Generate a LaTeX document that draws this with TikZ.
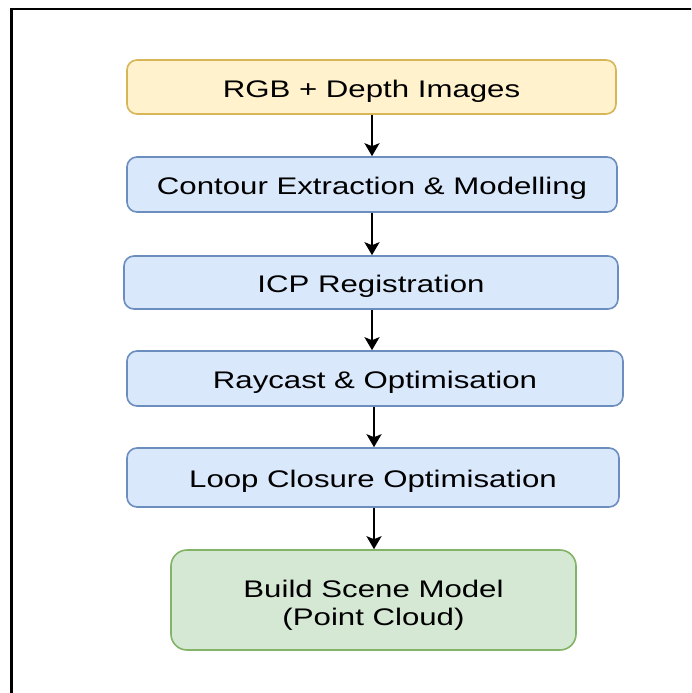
\documentclass[tikz,border=0pt]{standalone}
\usepackage{fontspec}
\setmainfont{Liberation Sans}
\newfontfamily\labfont[FakeStretch=1.3]{Liberation Sans}
\usetikzlibrary{arrows.meta}
\definecolor{bluefill}{HTML}{DAE8FC}
\definecolor{bluestroke}{HTML}{6C8EBF}
\definecolor{yelfill}{HTML}{FFF2CC}
\definecolor{yelstroke}{HTML}{D6B656}
\definecolor{grnfill}{HTML}{D5E8D4}
\definecolor{grnstroke}{HTML}{82B366}
\tikzset{
  labtext/.style={font=\labfont\fontsize{24pt}{28pt}\selectfont, text=black, align=center, inner sep=0pt},
  box/.style={draw, line width=1.6pt, rounded corners=10pt, inner sep=0pt, align=center,
    font=\labfont\fontsize{24pt}{28pt}\selectfont, text=black, text height=20pt, text depth=0pt},
  bluebox/.style={box, fill=bluefill, draw=bluestroke},
  yelbox/.style={box, fill=yelfill, draw=yelstroke},
  grnbox/.style={draw=grnstroke, fill=grnfill, line width=1.6pt, rounded corners=16pt, inner sep=0pt},
  arr/.style={draw=black, line width=2pt, -{Stealth[length=13pt, width=15pt, inset=3pt]}}
}
\begin{document}
\begin{tikzpicture}[x=1pt, y=-1pt]
\useasboundingbox (0,0) rectangle (691,693);
\clip (0,0) rectangle (691,693);
\fill[white] (0,0) rectangle (691,693);
\draw[line width=2.2pt] (11.5,720) -- (11.5,9) -- (720,9);
\node[yelbox, minimum width=489pt, minimum height=54pt] (n1) at (371.5,87) {RGB + Depth Images};
\node[bluebox, minimum width=490pt, minimum height=55pt] (n2) at (372,184.5) {Contour Extraction \& Modelling};
\node[bluebox, minimum width=494pt, minimum height=53pt] (n3) at (371,282.5) {ICP Registration};
\node[bluebox, minimum width=496pt, minimum height=55pt] (n4) at (375,378.5) {Raycast \& Optimisation};
\node[bluebox, minimum width=492pt, minimum height=59pt] (n5) at (373,477.5) {Loop Closure Optimisation};
\node[grnbox, minimum width=405pt, minimum height=100pt] (n6) at (373.5,600) {};
\node[labtext] (n6t) at ([yshift=-5pt]n6.center) {Build Scene Model\\(Point Cloud)};
\draw[arr] ([xshift=0.5pt]n1.south) -- ([xshift=0.5pt]n1.south |- n2.north);
\draw[arr] (n2.south) -- (n2.south |- n3.north);
\draw[arr] ([xshift=1pt]n3.south) -- ([xshift=1pt]n3.south |- n4.north);
\draw[arr] ([xshift=-1pt]n4.south) -- ([xshift=-1pt]n4.south |- n5.north);
\draw[arr] ([xshift=1pt]n5.south) -- ([xshift=1pt]n5.south |- n6.north);
\end{tikzpicture}
\end{document}
